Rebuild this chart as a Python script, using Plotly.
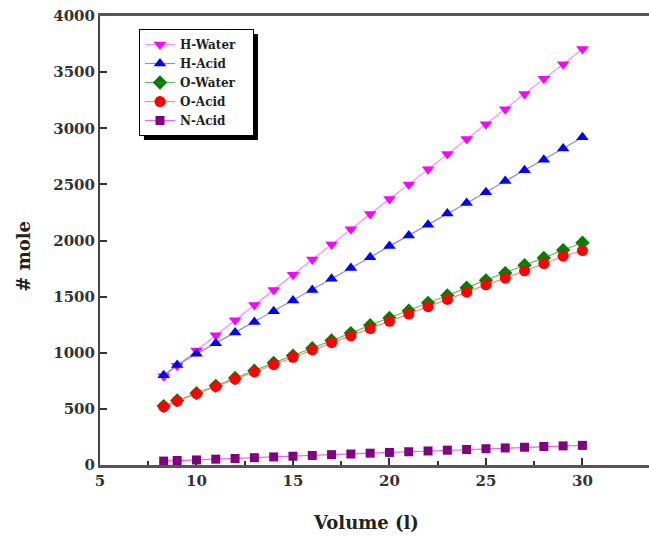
import plotly.graph_objects as go

volume = [8.3, 9, 10, 11, 12, 13, 14, 15, 16, 17, 18, 19, 20, 21, 22, 23, 24, 25, 26, 27, 28, 29, 30]
h_water = [790, 885, 1020, 1155, 1290, 1425, 1560, 1695, 1830, 1965, 2100, 2235, 2370, 2500, 2635, 2770, 2905, 3035, 3170, 3305, 3440, 3570, 3705]
h_acid = [800, 890, 990, 1085, 1180, 1275, 1370, 1465, 1560, 1660, 1755, 1850, 1950, 2045, 2140, 2240, 2335, 2430, 2530, 2625, 2720, 2820, 2920]
o_water = [525, 575, 640, 705, 775, 840, 910, 975, 1040, 1110, 1175, 1245, 1310, 1375, 1445, 1510, 1580, 1645, 1710, 1780, 1845, 1915, 1980]
o_acid = [520, 570, 635, 700, 765, 830, 895, 960, 1025, 1090, 1150, 1215, 1280, 1345, 1410, 1475, 1540, 1605, 1665, 1730, 1795, 1860, 1910]
n_acid = [35, 40, 45, 52, 58, 65, 72, 78, 85, 92, 98, 105, 112, 118, 125, 132, 138, 145, 152, 158, 165, 170, 175]

series = [
    ("H-Water", h_water, "#ff00ff", "#ff88ff", "triangle-down", 11),
    ("H-Acid", h_acid, "#0000ff", "#8888ff", "triangle-up", 11),
    ("O-Water", o_water, "#008000", "#66bb66", "diamond", 11),
    ("O-Acid", o_acid, "#ff0000", "#ff8888", "circle", 11),
    ("N-Acid", n_acid, "#800080", "#ee66ee", "square", 9),
]

PAD = "\u00a0\u00a0\u00a0"

fig = go.Figure()
for name, vals, mc, lc, sym, sz in series:
    fig.add_trace(go.Scatter(
        x=volume, y=vals, name=name + PAD, mode="lines+markers",
        line=dict(color=lc, width=1.2),
        marker=dict(symbol=sym, size=sz, color=mc, line=dict(width=0)),
    ))

font_family = "DejaVu Serif"
fig.update_layout(
    width=649, height=536,
    margin=dict(l=100, r=0, t=16, b=71),
    paper_bgcolor="white", plot_bgcolor="white",
    font=dict(family=font_family, color="#222"),
    showlegend=True,
    legend=dict(
        x=0.071, y=0.971, xanchor="left", yanchor="top",
        bgcolor="white", bordercolor="black", borderwidth=1,
        font=dict(family=font_family, size=12, color="#222", weight="bold"),
        itemwidth=30, tracegroupgap=0,
    ),
    xaxis=dict(
        range=[5, 33.45], tickvals=[5, 10, 15, 20, 25, 30],
        ticks="inside", ticklen=7, tickwidth=1.5, tickcolor="#333",
        minor=dict(tickvals=[7.5, 12.5, 17.5, 22.5, 27.5], ticks="inside", ticklen=4, tickcolor="#333"),
        showgrid=False, zeroline=False,
        showline=True, linecolor="#555", linewidth=2.5, mirror=True,
        tickfont=dict(family=font_family, size=15, color="#333", weight="bold"),
    ),
    yaxis=dict(
        range=[0, 4000], dtick=500,
        ticks="inside", ticklen=7, tickwidth=1.5, tickcolor="#333",
        showgrid=False, zeroline=False,
        showline=True, linecolor="#444", linewidth=2, mirror=False,
        tickfont=dict(family=font_family, size=15, color="#333", weight="bold"),
    ),
)

fig.add_annotation(text="# mole", xref="paper", yref="paper", x=-0.139, y=0.4655,
                   xanchor="center", yanchor="middle", textangle=-90, showarrow=False,
                   font=dict(family=font_family, size=18, color="#222", weight="bold"))
fig.add_annotation(text="Volume (l)", xref="paper", yref="paper", x=0.4845, y=-0.127,
                   xanchor="center", yanchor="middle", showarrow=False,
                   font=dict(family=font_family, size=18, color="#222", weight="bold"))

# legend shadow
lx, ly, lw, lh = 0.071, 0.971, 0.2077, 0.236
fig.add_shape(type="rect", xref="paper", yref="paper",
              x0=lx + 0.009, x1=lx + lw + 0.009, y0=ly - lh - 0.011, y1=ly - 0.011,
              fillcolor="black", line=dict(width=0), layer="above")

fig.write_html("out.html")
